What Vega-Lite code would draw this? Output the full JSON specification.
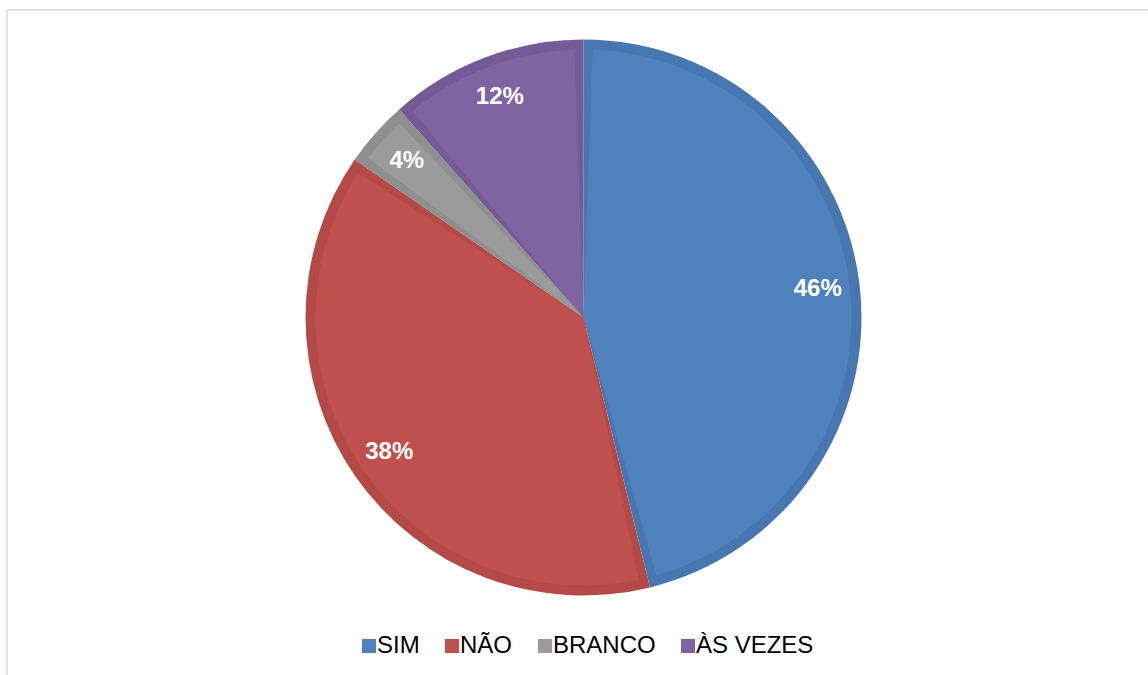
{
  "$schema": "https://vega.github.io/schema/vega-lite/v6.json",
  "width": 1160,
  "height": 680,
  "autosize": {"type": "none"},
  "padding": {"left": 7, "top": 10, "right": -19, "bottom": -15},
  "background": "white",
  "config": {
    "view": {"stroke": "#d9d9d9", "strokeWidth": 1.5},
    "font": "Liberation Sans"
  },
  "data": {
    "values": [
      {"resposta": "SIM", "quantidade": 12, "percentual": "46%", "ordem": 1},
      {"resposta": "NÃO", "quantidade": 10, "percentual": "38%", "ordem": 2},
      {"resposta": "BRANCO", "quantidade": 1, "percentual": "4%", "ordem": 3},
      {"resposta": "ÀS VEZES", "quantidade": 3, "percentual": "12%", "ordem": 4}
    ]
  },
  "layer": [
    {
      "mark": {"type": "arc", "outerRadius": 278},
      "encoding": {
        "theta": {"field": "quantidade", "type": "quantitative", "stack": true},
        "order": {"field": "ordem", "type": "quantitative"},
        "color": {
          "field": "resposta",
          "type": "nominal",
          "scale": {
            "domain": ["SIM", "NÃO", "BRANCO", "ÀS VEZES"],
            "range": ["#4776b0", "#b44a47", "#8f8f8f", "#755b95"]
          },
          "legend": null
        },
        "x": {"value": 576.5},
        "y": {"value": 307.5}
      }
    },
    {
      "mark": {"type": "arc", "outerRadius": 268, "padAngle": 0.067},
      "encoding": {
        "theta": {"field": "quantidade", "type": "quantitative", "stack": true},
        "order": {"field": "ordem", "type": "quantitative"},
        "color": {
          "field": "resposta",
          "type": "nominal",
          "scale": {
            "domain": ["SIM", "NÃO", "BRANCO", "ÀS VEZES"],
            "range": ["#4f81bd", "#c0504d", "#9b9b9b", "#8064a2"]
          },
          "legend": {
            "title": null,
            "orient": "none",
            "direction": "horizontal",
            "legendX": 350,
            "legendY": 624,
            "padding": 0,
            "symbolType": "square",
            "symbolSize": 200,
            "symbolStrokeWidth": 0,
            "symbolOpacity": 1,
            "labelFontSize": 24,
            "labelFont": "Liberation Sans",
            "labelColor": "#000000",
            "labelOffset": -4,
            "columnPadding": 20,
            "labelLimit": 300
          }
        },
        "x": {"value": 576.5},
        "y": {"value": 307.5}
      }
    },
    {
      "mark": {
        "type": "text",
        "radius": 236,
        "fontSize": 24,
        "fontWeight": "bold",
        "font": "Liberation Sans",
        "color": "white"
      },
      "encoding": {
        "theta": {"field": "quantidade", "type": "quantitative", "stack": true},
        "order": {"field": "ordem", "type": "quantitative"},
        "text": {"field": "percentual", "type": "nominal"},
        "x": {"value": 576.5},
        "y": {"value": 307.5}
      }
    }
  ],
  "resolve": {"scale": {"color": "independent"}}
}
